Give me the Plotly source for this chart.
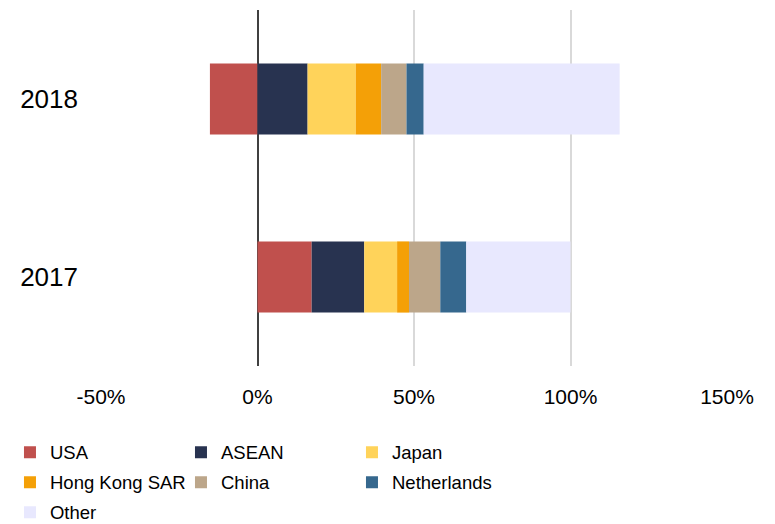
import plotly.graph_objects as go

years = ["2017", "2018"]
regions = ["USA", "ASEAN", "Japan", "Hong Kong SAR", "China", "Netherlands", "Other"]
colors = ["#C0504D", "#283350", "#FFD35A", "#F4A007", "#BCA68A", "#36688E", "#E8E8FE"]

# share of total (%) per region, for 2017 and 2018
usa = [17.3, -15.2]
asean = [16.8, 16.0]
japan = [10.5, 15.4]
hong_kong = [3.8, 8.1]
china = [10.0, 8.1]
netherlands = [8.3, 5.5]
other = [33.3, 62.6]

series = [usa, asean, japan, hong_kong, china, netherlands, other]

x_ticks = [-50, 0, 50, 100, 150]
x_labels = ["-50%", "0%", "50%", "100%", "150%"]

font_family = "Liberation Sans, Arial"

# three legend rows of three entries each
legend_rows = ["legend", "legend", "legend", "legend2", "legend2", "legend2", "legend3"]

fig = go.Figure()
for name, vals, col, lg in zip(regions, series, colors, legend_rows):
    fig.add_trace(go.Bar(
        y=years, x=vals, name=name, orientation="h",
        marker=dict(color=col, line=dict(width=0)),
        legend=lg,
    ))

legend_style = dict(
    orientation="h", x=-0.1454, xanchor="left", yanchor="top",
    entrywidth=126, entrywidthmode="pixels",
    font=dict(family=font_family, size=18.5, color="#000000"),
    itemwidth=30, tracegroupgap=0, bgcolor="rgba(0,0,0,0)",
)

fig.update_layout(
    barmode="relative",
    bargap=0.6,
    width=775, height=524,
    margin=dict(l=101, r=48, t=10, b=158, autoexpand=False),
    plot_bgcolor="white", paper_bgcolor="white",
    showlegend=True,
    legend=dict(legend_style, y=-0.19),
    legend2=dict(legend_style, y=-0.2743),
    legend3=dict(legend_style, y=-0.3586),
    xaxis=dict(
        range=[-50, 150], tickvals=x_ticks, ticktext=x_labels,
        showgrid=True, gridcolor="#D9D9D9", gridwidth=2,
        zeroline=True, zerolinecolor="#404040", zerolinewidth=2,
        showline=False, ticks="", ticklabelstandoff=16,
        tickfont=dict(family=font_family, size=21, color="#000000"),
        fixedrange=True,
    ),
    yaxis=dict(
        range=[-0.5, 1.5], categoryorder="array", categoryarray=years,
        showgrid=False, zeroline=False, showline=False, ticks="",
        ticklabelstandoff=22,
        tickfont=dict(family=font_family, size=26, color="#000000"),
        fixedrange=True,
    ),
)

fig.write_html("out.html")
